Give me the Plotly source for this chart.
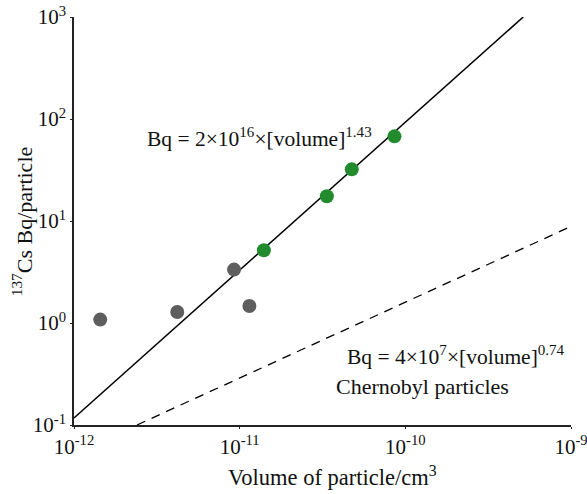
import plotly.graph_objects as go

# Data
gray_vol = [1.44e-12, 4.2e-12, 9.25e-12, 1.145e-11]
gray_bq = [1.08, 1.28, 3.34, 1.47]

green_vol = [1.40e-11, 3.36e-11, 4.75e-11, 8.6e-11]
green_bq = [5.16, 17.5, 32.1, 67.6]

fit_vol = [1e-12, 5.15e-10]
fit_bq = [0.117, 1000]

cher_vol = [2.4e-12, 1e-9]
cher_bq = [0.1, 8.85]

x_tickvals = [1e-12, 1e-11, 1e-10, 1e-9]
x_ticktext = ["10<sup>-12</sup>", "10<sup>-11</sup>", "10<sup>-10</sup>", "10<sup>-9</sup>"]
y_tickvals = [0.1, 1, 10, 100, 1000]
y_ticktext = ["10<sup>-1</sup>", "10<sup>0</sup>", "10<sup>1</sup>", "10<sup>2</sup>", "10<sup>3</sup>"]

FONT = "Liberation Serif"
TXT = "#111"

fig = go.Figure()
fig.add_trace(go.Scatter(x=fit_vol, y=fit_bq, mode="lines",
                         line=dict(color="black", width=1.5), showlegend=False))
fig.add_trace(go.Scatter(x=cher_vol, y=cher_bq, mode="lines",
                         line=dict(color="black", width=1.3, dash="9px,7px"), showlegend=False))
fig.add_trace(go.Scatter(x=gray_vol, y=gray_bq, mode="markers",
                         marker=dict(color="#5e5e5e", size=14), showlegend=False))
fig.add_trace(go.Scatter(x=green_vol, y=green_bq, mode="markers",
                         marker=dict(color="#228b2e", size=14), showlegend=False))

fig.add_annotation(x=-11.571, y=1.82, xref="x", yref="y", xanchor="left", yanchor="middle",
                   text="Bq = 2×10<sup>16</sup>×[volume]<sup>1.43</sup>", showarrow=False,
                   font=dict(family=FONT, size=21.5, color=TXT))
fig.add_annotation(x=-10.364, y=-0.317, xref="x", yref="y", xanchor="left", yanchor="middle",
                   text="Bq = 4×10<sup>7</sup>×[volume]<sup>0.74</sup>", showarrow=False,
                   font=dict(family=FONT, size=21.5, color=TXT))
fig.add_annotation(x=-10.43, y=-0.62, xref="x", yref="y", xanchor="left", yanchor="middle",
                   text="Chernobyl particles", showarrow=False,
                   font=dict(family=FONT, size=22, color=TXT))

# axis titles
fig.add_annotation(x=0.52, y=-0.126, xref="paper", yref="paper", xanchor="center", yanchor="middle",
                   text="Volume of particle/cm<sup>3</sup>", showarrow=False,
                   font=dict(family=FONT, size=22.5, color=TXT))
fig.add_annotation(x=-0.104, y=0.5, xref="paper", yref="paper", xanchor="center", yanchor="middle",
                   text="<sup>137</sup>Cs Bq/particle", showarrow=False, textangle=-90,
                   font=dict(family=FONT, size=22, color=TXT))

axis_common = dict(showgrid=False, zeroline=False, showline=True, linecolor="#222", linewidth=1.6,
                   ticks="outside", ticklen=2, tickcolor="#222", automargin=False,
                   ticklabeloverflow="allow",
                   tickfont=dict(family=FONT, size=21, color=TXT))

fig.update_xaxes(type="log", range=[-12, -9], tickvals=x_tickvals, ticktext=x_ticktext, **axis_common)
fig.update_yaxes(type="log", range=[-1, 3], tickvals=y_tickvals, ticktext=y_ticktext, **axis_common)

fig.update_layout(width=587, height=494, margin=dict(l=74, r=16, t=16.5, b=68.5),
                  plot_bgcolor="white", paper_bgcolor="white", font=dict(family=FONT))

# remove the default page margin so the figure fills the window exactly
fig.write_html("out.html", config={"displayModeBar": False},
               post_script="document.body.style.margin='0px';")
